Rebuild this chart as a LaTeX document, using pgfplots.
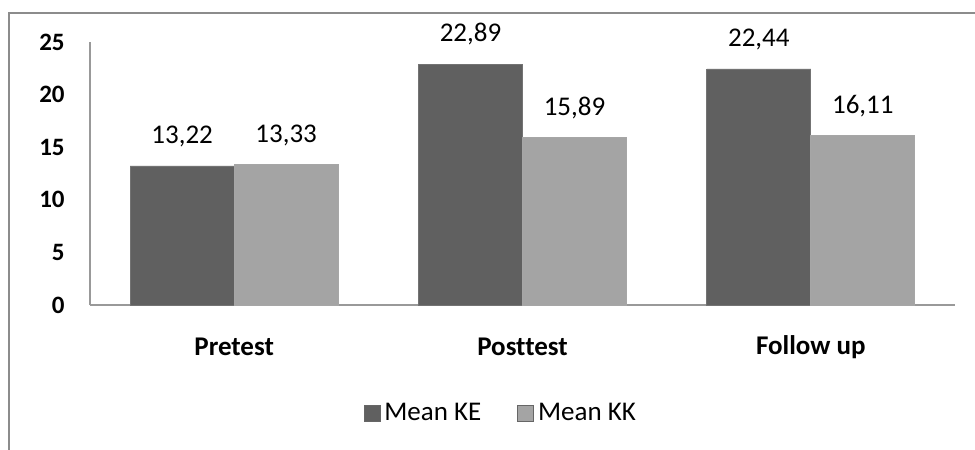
\documentclass[border=0pt]{standalone}
\usepackage{fontspec}
\setmainfont{Carlito}[Ligatures=NoCommon]
\usepackage{pgfplots}
\pgfplotsset{compat=1.18}
\definecolor{ke}{RGB}{96,96,96}
\definecolor{kk}{RGB}{164,164,164}
\begin{document}
\begin{tikzpicture}[x=1pt,y=1pt]
\path[use as bounding box] (0,0) rectangle (487.5,225);
\draw[black!45, line width=0.7pt] (4.5,-2) -- (4.5,218.5) -- (490,218.5);
\begin{axis}[
  at={(45pt,72.5pt)}, anchor=south west,
  scale only axis, width=432.5pt, height=131.5pt,
  ybar=0pt, bar width=52pt,
  xmin=-0.5, xmax=2.5, ymin=0, ymax=25,
  ytick={0,5,...,25}, xtick=data,
  xticklabels={Pretest,Posttest,Follow up},
  axis x line*=bottom, axis y line*=left,
  axis line style={black!40, line width=0.8pt},
  major tick length=0pt,
  /pgf/number format/assume math mode=true,
  yticklabel style={font=\fontsize{12.5}{14}\selectfont\bfseries, anchor=east, inner sep=0pt, xshift=-12.5pt},
  xticklabel style={font=\fontsize{13.5}{15}\selectfont\bfseries, anchor=center, inner sep=0pt, yshift=-21pt},
  nodes near coords,
  nodes near coords style={font=\fontsize{13.5}{15}\selectfont, yshift=6pt,
    /pgf/number format/use comma, /pgf/number format/fixed,
    /pgf/number format/precision=2, /pgf/number format/fixed zerofill,
    /pgf/number format/assume math mode=true},
  legend style={at={(0.476,-0.4106)}, anchor=center, draw=none, fill=none,
    font=\fontsize{13.5}{15}\selectfont, legend columns=2,
    /tikz/every even column/.append style={column sep=16pt}},
  legend image code/.code={\fill[#1, draw=black!60] (0pt,-4pt) rectangle (8pt,4pt);},
]
\addplot[fill=ke, draw=black!55] coordinates {(0,13.22) (1,22.89) (2,22.44)};
\addplot[fill=kk, draw=black!35] coordinates {(0,13.33) (1,15.89) (2,16.11)};
\legend{Mean KE, Mean KK}
\end{axis}
\end{tikzpicture}
\end{document}
